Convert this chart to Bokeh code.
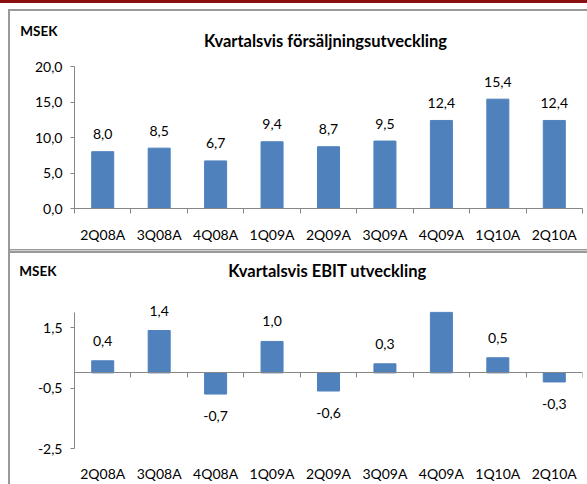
from bokeh.plotting import figure
from bokeh.models import ColumnDataSource, FixedTicker, LinearAxis, LabelSet, Range1d
from bokeh.core.properties import value
from bokeh.layouts import column
from bokeh.embed import file_html
from bokeh.resources import INLINE

# ---- data ----
quarters = ["2Q08A", "3Q08A", "4Q08A", "1Q09A", "2Q09A", "3Q09A", "4Q09A", "1Q10A", "2Q10A"]
sales = [8.0, 8.5, 6.7, 9.4, 8.7, 9.5, 12.4, 15.4, 12.4]
sales_labels = ["8,0", "8,5", "6,7", "9,4", "8,7", "9,5", "12,4", "15,4", "12,4"]
ebit = [0.4, 1.4, -0.7, 1.04, -0.6, 0.3, 2.0, 0.5, -0.3]
ebit_labels = ["0,4", "1,4", "-0,7", "1,0", "-0,6", "0,3", "", "0,5", "-0,3"]
sales_ticks = [0, 5, 10, 15, 20]
sales_tick_labels = ["0,0", "5,0", "10,0", "15,0", "20,0"]
ebit_ticks = [-2.5, -0.5, 1.5]
ebit_tick_labels = ["-2,5", "-0,5", "1,5"]
title_sales = "Kvartalsvis försäljningsutveckling"
title_ebit = "Kvartalsvis EBIT utveckling"
unit = "MSEK"

FONT = "Lato"
BAR = "#4F81BD"
AXIS = "#868686"
BOX = "#999999"
W = 587
LEFT, RIGHT = 74, 5          # frame borders shared by all stacked figures


def header(height, title, title_xy, unit_y, unit_standoff, styles):
    # x data = page pixels (frame spans LEFT..W-RIGHT), y data = pixels from the top
    h = figure(width=W, height=height, x_range=Range1d(LEFT, W - RIGHT),
               y_range=Range1d(height, 0),
               output_backend="svg", toolbar_location=None, x_axis_location=None,
               min_border_left=LEFT, min_border_right=RIGHT,
               min_border_top=0, min_border_bottom=0, styles=styles)
    h.grid.visible = False
    h.outline_line_color = None
    h.background_fill_color = None
    h.border_fill_color = None
    ya = h.yaxis[0]
    ya.ticker = FixedTicker(ticks=[unit_y])
    ya.major_label_overrides = {unit_y: unit}
    ya.axis_line_color = None
    ya.major_tick_line_color = None
    ya.minor_tick_line_color = None
    ya.major_tick_out = 0
    ya.major_tick_in = 0
    ya.major_label_standoff = unit_standoff
    ya.major_label_text_font = FONT
    ya.major_label_text_font_style = "bold"
    ya.major_label_text_font_size = "13.5px"
    ya.major_label_text_color = "#000000"
    h.text(x=[title_xy[0]], y=[title_xy[1]], text=[title], text_align="center",
           text_baseline="middle", text_font=value(FONT), text_font_style="bold",
           text_font_size="16.5px", text_color="#000000")
    return h


def make_chart(values, labels, yticks, yticklabels, ybounds, yrange,
               height, border_top, border_bottom, pos_off, neg_off, zero_axis, styles):
    n = len(quarters)
    centers = [i + 0.5 for i in range(n)]
    bounds = list(range(n + 1))
    offs = [pos_off if v >= 0 else neg_off for v in values]
    src = ColumnDataSource(dict(x=centers, v=values, lab=labels, off=offs))

    p = figure(width=W, height=height, x_range=Range1d(0, n), y_range=Range1d(*yrange),
               output_backend="svg", toolbar_location=None,
               min_border_left=LEFT, min_border_right=RIGHT,
               min_border_top=border_top, min_border_bottom=border_bottom,
               styles=styles)
    p.grid.visible = False
    p.outline_line_color = None
    p.background_fill_color = None
    p.border_fill_color = None

    p.vbar(x="x", top="v", bottom=0, width=0.39, source=src,
           fill_color=BAR, line_color=BAR)

    p.add_layout(LabelSet(x="x", y="v", text="lab", y_offset="off", source=src,
                          text_align="center", text_baseline="middle",
                          text_font=value(FONT), text_font_size="14px", text_color="#000000"))

    ya = p.yaxis[0]
    ya.ticker = FixedTicker(ticks=yticks)
    ya.bounds = ybounds
    ya.major_label_overrides = {t: l for t, l in zip(yticks, yticklabels)}
    ya.axis_line_color = AXIS
    ya.major_tick_line_color = AXIS
    ya.major_tick_out = 4
    ya.major_tick_in = 0
    ya.minor_tick_line_color = None
    ya.major_label_standoff = 8
    ya.major_label_text_font = FONT
    ya.major_label_text_font_size = "14px"
    ya.major_label_text_color = "#000000"

    xa = p.xaxis[0]
    xa.ticker = FixedTicker(ticks=centers, minor_ticks=bounds)
    xa.major_label_overrides = {c: q for c, q in zip(centers, quarters)}
    xa.major_tick_line_color = None
    xa.major_tick_out = 0
    xa.major_tick_in = 0
    xa.major_label_text_font = FONT
    xa.major_label_text_font_size = "14px"
    xa.major_label_text_color = "#000000"
    xa.major_label_standoff = 12
    if zero_axis:
        xa.axis_line_color = None
        xa.minor_tick_line_color = None
        za = LinearAxis(fixed_location=0, ticker=FixedTicker(ticks=[], minor_ticks=bounds),
                        axis_line_color=AXIS, minor_tick_line_color=AXIS,
                        minor_tick_out=0, minor_tick_in=5,
                        major_tick_line_color=None, major_tick_out=0, major_tick_in=0,
                        major_label_standoff=0, major_label_text_font_size="0px")
        p.add_layout(za, "above")
    else:
        xa.axis_line_color = AXIS
        xa.minor_tick_line_color = AXIS
        xa.minor_tick_out = 5
        xa.minor_tick_in = 0
    return p


left_line = ["inset 8px 0 0 0 #ffffff", f"inset 10px 0 0 0 {BOX}"]
hdr_top_styles = {"box-shadow": ", ".join([
    "inset 0 3px 0 0 #8b1010",
    "inset 0 9px 0 0 #ffffff",
] + left_line + [f"inset 0 11px 0 0 {BOX}"])}
top_styles = {"box-shadow": ", ".join(left_line + [f"inset 0 -1px 0 0 {BOX}"])}
hdr_bottom_styles = {"box-shadow": ", ".join(left_line + [
    "inset 0 1px 0 0 #cfcfcf", f"inset 0 3px 0 0 {BOX}"])}
bottom_styles = {"box-shadow": ", ".join(left_line)}

hdr_top = header(52, title_sales, (325, 40), 30, 17, hdr_top_styles)
top = make_chart(sales, sales_labels, sales_ticks, sales_tick_labels, (0, 20), (0, 20),
                 198, 14, 42, 17.5, -22, False, top_styles)
hdr_bottom = header(32, title_ebit, (327, 20.7), 20, 18, hdr_bottom_styles)
ebit_top = 2.0 + 18 * (4.5 / 137)   # frame reaches a little above the axis for the labels
bottom = make_chart(ebit, ebit_labels, ebit_ticks, ebit_tick_labels, (-2.5, 2.0), (-2.5, ebit_top),
                    202, 12, 35, 20, -22, True, bottom_styles)

layout = column(hdr_top, top, hdr_bottom, bottom)

open("out.html", "w").write(file_html(layout, INLINE))
